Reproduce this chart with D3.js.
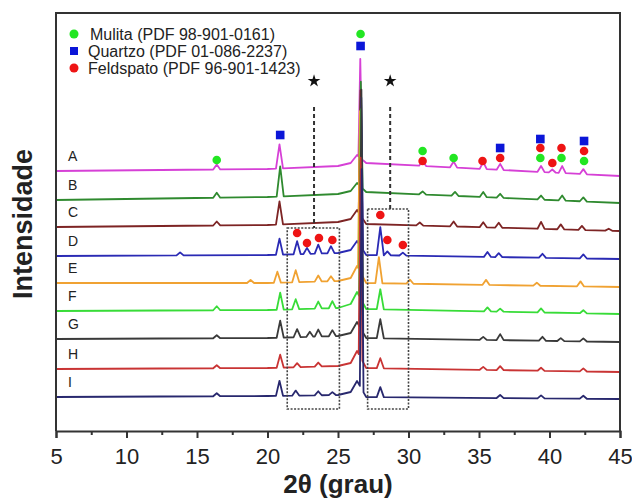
<!DOCTYPE html>
<html>
<head>
<meta charset="utf-8">
<script src="https://d3js.org/d3.v7.min.js"></script>
<style>
  body { margin: 0; background: #fff; font-family: 'Liberation Sans', Arial, sans-serif; }
  svg { display: block; }
</style>
</head>
<body>
<div id="chart"></div>
<script>
// 2θ range and tick values
const thetaDomain = [5, 45];
const majorTicks = [5, 10, 15, 20, 25, 30, 35, 40, 45];
const minorTicks = [7.5, 12.5, 17.5, 22.5, 27.5, 32.5, 37.5, 42.5];

const traceLabels = ["A", "B", "C", "D", "E", "F", "G", "H", "I"];
const traceColors = ["#d640d6", "#2f8a2f", "#7d2424", "#2a2ab4", "#f0a232", "#38dc38", "#3a3a3a", "#c93434", "#28286e"];

// baseline knots (2θ) and baseline intensity of each pattern at those knots
const baseKnots = [5, 20, 25, 25.9, 26.35, 27.0, 45];
const baseA = [260, 262, 265, 268, 276, 268, 255];
const baseB = [231, 234, 237, 240, 248, 239, 228];
const baseC = [204, 206, 209, 212, 221, 207, 200];
const baseD = [175, 176, 178, 181, 190, 176, 172];
const baseE = [148, 148, 150, 153, 165, 148, 144];
const baseF = [120, 121, 123, 127, 139, 122, 117];
const baseG = [92, 93, 95, 98, 109, 93, 89];
const baseH = [62, 63, 65, 68, 80, 63, 59];
const baseI = [34, 35, 36, 39, 50, 34, 32];

// peaks: [2θ, height above baseline]
const peaksA = [[16.4, 5], [20.85, 24], [26.58, 99], [31.0, 5], [33.2, 6], [35.3, 7], [36.5, 6], [39.4, 6], [40.2, 3], [40.9, 7], [42.4, 5]];
const peaksB = [[16.4, 5], [20.9, 30], [26.62, 105], [31.0, 3], [33.3, 4], [35.3, 5], [36.5, 4], [39.4, 4], [40.9, 5], [42.4, 4]];
const peaksC = [[16.4, 4], [20.85, 23], [26.6, 125], [30.8, 3], [33.2, 5], [35.3, 5], [36.4, 5], [39.4, 7], [40.8, 5], [42.3, 4], [44.2, 2]];
const peaksD = [[13.8, 3], [20.85, 16], [22.1, 13], [22.8, 6], [23.6, 9], [24.5, 7], [26.65, 150], [28.0, 28], [28.5, 4], [29.6, 3], [35.6, 5], [36.4, 4], [39.5, 4], [42.4, 4]];
const peaksE = [[18.8, 3], [20.7, 11], [22.0, 12], [23.6, 6], [24.5, 5], [26.55, 160], [27.9, 26], [30.1, 4], [35.5, 5], [39.1, 3], [42.2, 5]];
const peaksF = [[16.4, 4], [20.9, 17], [22.0, 10], [23.6, 7], [24.6, 7], [26.62, 190], [28.0, 20], [35.6, 4], [36.5, 3], [39.4, 4], [42.4, 3]];
const peaksG = [[16.4, 3], [20.9, 17], [22.1, 8], [23.0, 5], [23.6, 7], [24.6, 6], [26.66, 240], [28.0, 19], [35.3, 3], [36.5, 6], [39.5, 4], [40.8, 3], [42.4, 3]];
const peaksH = [[16.4, 3], [20.9, 13], [22.1, 4], [23.6, 4], [26.6, 200], [28.0, 10], [35.3, 3], [36.5, 4], [39.4, 3], [42.4, 3]];
const peaksI = [[16.4, 3], [20.85, 15], [22.0, 5], [23.6, 4], [24.6, 3], [26.68, 220], [28.0, 10], [36.5, 3], [39.4, 3], [42.4, 3]];

// phase markers: [2θ, intensity level]
const mulitaPos = [[26.6, 397], [16.4, 271], [31.0, 280], [33.2, 273], [39.35, 273], [40.85, 273], [42.45, 270]];
const quartzoPos = [[26.6, 385], [20.9, 296], [36.5, 283], [39.35, 292], [42.45, 290]];
const feldspatoPos = [[31.0, 270], [35.25, 270], [36.5, 273], [39.35, 283], [40.2, 268], [40.85, 283], [42.45, 280],
                      [22.1, 198], [22.8, 188], [23.65, 193], [24.6, 191], [28.0, 216], [28.5, 191], [29.6, 186]];

// starred regions: dashed line [2θ, from, to] and dotted boxes [2θ0, 2θ1, low, high]
const starLines = [[23.3, 324, 203], [28.7, 324, 222]];
const starLevel = 350;
const dottedBoxes = [[21.4, 25.1, 22, 203], [27.1, 30.0, 22, 222]];

const legendNames = ["Mulita (PDF 98-901-0161)", "Quartzo (PDF 01-086-2237)", "Feldspato (PDF 96-901-1423)"];
const legendColors = ["#22e622", "#0b16d8", "#ee1414"];

const width = 632, height = 498;
const plotLeft = 56, plotRight = 620, plotTop = 13, plotBottom = 431;

const svg = d3.select("#chart").append("svg")
    .attr("width", width)
    .attr("height", height);

const x = d3.scaleLinear().domain(thetaDomain).range([plotLeft, plotRight]);
const y = d3.scaleLinear().domain([0, 418]).range([plotBottom, plotTop]);

// traces
const bases = [baseA, baseB, baseC, baseD, baseE, baseF, baseG, baseH, baseI];
const peaks = [peaksA, peaksB, peaksC, peaksD, peaksE, peaksF, peaksG, peaksH, peaksI];

const tracePoints = (base, pk) => {
    const b = d3.scaleLinear().domain(baseKnots).range(base);
    const pts = baseKnots.map((k, i) => [k, base[i]]);
    pk.forEach(([p, h]) => {
        const w = h > 60 ? 0.13 : 0.25;
        pts.push([p - w, b(p - w)], [p, b(p) + h], [p + w, b(p + w)]);
    });
    return pts.sort((a, c) => a[0] - c[0]);
};

const line = d3.line().x(d => x(d[0])).y(d => y(d[1]));

svg.append("g")
    .selectAll("path")
    .data(traceLabels)
    .join("path")
    .attr("d", (d, i) => line(tracePoints(bases[i], peaks[i])))
    .attr("fill", "none")
    .attr("stroke", (d, i) => traceColors[i])
    .attr("stroke-width", 1.8)
    .attr("stroke-linejoin", "round");

// trace letters
svg.append("g")
    .selectAll("text")
    .data(traceLabels)
    .join("text")
    .attr("x", 68)
    .attr("y", (d, i) => y(bases[i][0]) - 10)
    .attr("font-size", 14)
    .attr("fill", "#222")
    .text(d => d);

// starred dashed lines and dotted boxes
svg.append("g")
    .selectAll("line")
    .data(starLines)
    .join("line")
    .attr("x1", d => x(d[0])).attr("x2", d => x(d[0]))
    .attr("y1", d => y(d[1])).attr("y2", d => y(d[2]))
    .attr("stroke", "#333")
    .attr("stroke-width", 2)
    .attr("stroke-dasharray", "4,3");

svg.append("g")
    .selectAll("path")
    .data(starLines)
    .join("path")
    .attr("d", d3.symbol(d3.symbolStar, 50))
    .attr("transform", d => `translate(${x(d[0])},${y(starLevel)})`)
    .attr("fill", "#111");

svg.append("g")
    .selectAll("rect")
    .data(dottedBoxes)
    .join("rect")
    .attr("x", d => x(d[0]))
    .attr("width", d => x(d[1]) - x(d[0]))
    .attr("y", d => y(d[3]))
    .attr("height", d => y(d[2]) - y(d[3]))
    .attr("fill", "none")
    .attr("stroke", "#444")
    .attr("stroke-width", 1.6)
    .attr("stroke-dasharray", "2,1.5");

// phase markers
const dots = svg.append("g");
dots.selectAll("circle.mul")
    .data(mulitaPos)
    .join("circle")
    .attr("class", "mul")
    .attr("cx", d => x(d[0])).attr("cy", d => y(d[1]))
    .attr("r", 4.3)
    .attr("fill", legendColors[0]);
dots.selectAll("rect.qz")
    .data(quartzoPos)
    .join("rect")
    .attr("class", "qz")
    .attr("x", d => x(d[0]) - 4.3).attr("y", d => y(d[1]) - 4.3)
    .attr("width", 8.6).attr("height", 8.6)
    .attr("fill", legendColors[1]);
dots.selectAll("circle.fel")
    .data(feldspatoPos)
    .join("circle")
    .attr("class", "fel")
    .attr("cx", d => x(d[0])).attr("cy", d => y(d[1]))
    .attr("r", 4.3)
    .attr("fill", legendColors[2]);

// frame
svg.append("path")
    .attr("d", `M${plotLeft},${plotBottom}V${plotTop}H${plotRight}V${plotBottom}`)
    .attr("fill", "none")
    .attr("stroke", "#333")
    .attr("stroke-width", 2);

// x axis
const xAxis = svg.append("g")
    .attr("transform", `translate(0,${plotBottom})`)
    .call(d3.axisBottom(x).tickValues(majorTicks).tickSize(7).tickPadding(10).tickFormat(d3.format("d")));
xAxis.select(".domain").attr("stroke", "#333").attr("stroke-width", 2);
xAxis.selectAll(".tick line").attr("stroke", "#333").attr("stroke-width", 2);
xAxis.selectAll(".tick text").attr("font-size", 22).attr("font-family", "'Liberation Sans', Arial, sans-serif").attr("fill", "#222");

svg.append("g")
    .attr("transform", `translate(0,${plotBottom})`)
    .call(d3.axisBottom(x).tickValues(minorTicks).tickSize(4).tickFormat(""))
    .call(g => g.select(".domain").remove())
    .selectAll(".tick line").attr("stroke", "#333").attr("stroke-width", 2);

// axis titles
svg.append("text")
    .attr("x", (plotLeft + plotRight) / 2)
    .attr("y", 493)
    .attr("text-anchor", "middle")
    .attr("font-size", 26)
    .attr("font-weight", "bold")
    .attr("fill", "#222")
    .text("2θ (grau)");

svg.append("text")
    .attr("transform", "translate(32,224) rotate(-90)")
    .attr("text-anchor", "middle")
    .attr("font-size", 27)
    .attr("font-weight", "bold")
    .attr("fill", "#222")
    .text("Intensidade");

// legend
const legend = svg.append("g");
const legendRows = legend.selectAll("g")
    .data(legendNames)
    .join("g")
    .attr("transform", (d, i) => `translate(74,${34 + i * 17})`);
legendRows.each(function (d, i) {
    const g = d3.select(this);
    if (i === 1) {
        g.append("rect").attr("x", -4).attr("y", -4).attr("width", 8).attr("height", 8).attr("fill", legendColors[i]);
    } else {
        g.append("circle").attr("r", 4.5).attr("fill", legendColors[i]);
    }
    g.append("text")
        .attr("x", i === 0 ? 16 : 14)
        .attr("y", 5.5)
        .attr("font-size", 16)
        .attr("fill", "#222")
        .text(d);
});
</script>
</body>
</html>
